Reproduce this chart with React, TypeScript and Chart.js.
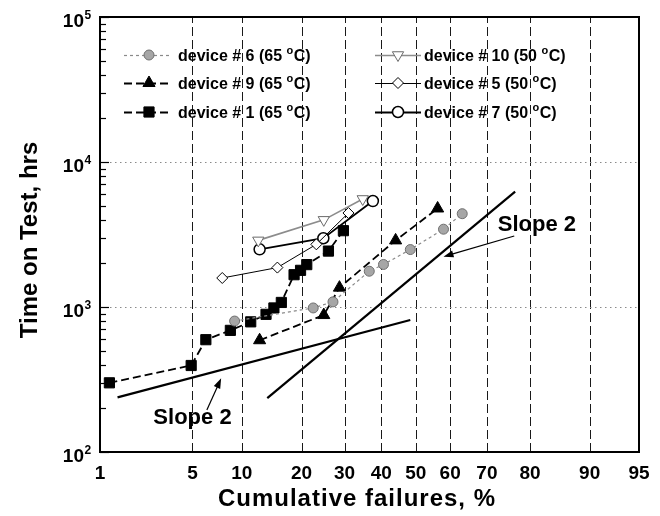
import React, { useEffect, useRef } from 'react';
import { Chart, registerables } from 'chart.js';

Chart.register(...registerables);

// ---------- data ----------
const tickPercents = [1, 5, 10, 20, 30, 40, 50, 60, 70, 80, 90, 95];
const tickLabels = ['1', '5', '10', '20', '30', '40', '50', '60', '70', '80', '90', '95'];
const yDecades = [100, 1000, 10000, 100000];
const yExponents = ['2', '3', '4', '5'];

const dev6Pct = [9.1, 22.5, 27.1, 36.6, 40.6, 48.4, 58.1, 63.4];
const dev6Hrs = [800, 985, 1085, 1765, 1965, 2490, 3440, 4400];

const dev9Pct = [12.5, 24.9, 28.7, 44.1, 56.4];
const dev9Hrs = [590, 880, 1360, 2880, 4780];

const dev1Pct = [1.2, 4.9, 6.1, 8.6, 11.2, 13.5, 14.8, 16.1, 18.5, 19.8, 21.1, 26.0, 29.7];
const dev1Hrs = [300, 395, 595, 690, 790, 890, 985, 1075, 1670, 1790, 1960, 2430, 3360];

const dev10Pct = [12.3, 24.9, 34.8];
const dev10Hrs = [2880, 3990, 5560];

const dev5Pct = [7.7, 15.4, 23.2, 31.0];
const dev5Hrs = [1585, 1870, 2705, 4450];

const dev7Pct = [12.5, 24.8, 37.6];
const dev7Hrs = [2500, 2980, 5380];

const slopeAPct = [1.4, 48.4];
const slopeAHrs = [238, 813];
const slopeBPct = [13.7, 76.8];
const slopeBHrs = [235, 6240];

const legendLabels = [
  'device # 6 (65 °C)',
  'device # 9 (65 °C)',
  'device # 1 (65 °C)',
  'device # 10 (50 °C)',
  'device # 5 (50 °C)',
  'device # 7 (50 °C)',
];

const slopeText = 'Slope 2';
// annotation anchors in data space (percent, hours)
const annotations = [
  { textPct: 5.0, textHrs: 156, fromPct: 6.19, fromHrs: 195, toPct: 7.58, toHrs: 322 },
  { textPct: 81.4, textHrs: 3317, fromPct: 76.6, fromHrs: 3088, toPct: 58.1, toHrs: 2223 },
];

const xTitle = 'Cumulative failures, %';
const yTitle = 'Time on Test, hrs';

// ---------- helpers ----------
const FONT = '"Liberation Sans", Arial, Helvetica, sans-serif';

function probit(p: number): number {
  const a = [-3.969683028665376e1, 2.209460984245205e2, -2.759285104469687e2, 1.38357751867269e2, -3.066479806614716e1, 2.506628277459239];
  const b = [-5.447609879822406e1, 1.615858368580409e2, -1.556989798598866e2, 6.680131188771972e1, -1.328068155288572e1];
  const c = [-7.784894002430293e-3, -3.223964580411365e-1, -2.400758277161838, -2.549732539343734, 4.374664141464968, 2.938163982698783];
  const d = [7.784695709041462e-3, 3.224671290700398e-1, 2.445134137142996, 3.754408661907416];
  const pl = 0.02425;
  const ph = 1 - pl;
  let q: number, r: number;
  if (p < pl) {
    q = Math.sqrt(-2 * Math.log(p));
    return (((((c[0] * q + c[1]) * q + c[2]) * q + c[3]) * q + c[4]) * q + c[5]) / ((((d[0] * q + d[1]) * q + d[2]) * q + d[3]) * q + 1);
  }
  if (p <= ph) {
    q = p - 0.5;
    r = q * q;
    return ((((((a[0] * r + a[1]) * r + a[2]) * r + a[3]) * r + a[4]) * r + a[5]) * q) / (((((b[0] * r + b[1]) * r + b[2]) * r + b[3]) * r + b[4]) * r + 1);
  }
  q = Math.sqrt(-2 * Math.log(1 - p));
  return -(((((c[0] * q + c[1]) * q + c[2]) * q + c[3]) * q + c[4]) * q + c[5]) / ((((d[0] * q + d[1]) * q + d[2]) * q + d[3]) * q + 1);
}

type SeriesStyle = {
  color: string;
  width: number;
  dash: number[];
  pointStyle: string;
  radius: number;
  fill: string;
  border: string;
  borderWidth: number;
  rotation: number;
};

const styles: SeriesStyle[] = [
  { color: '#8a8a8a', width: 1.2, dash: [3, 3], pointStyle: 'circle', radius: 5, fill: '#a6a6a6', border: '#6f6f6f', borderWidth: 1, rotation: 0 },
  { color: '#000', width: 1.8, dash: [8, 4], pointStyle: 'triangle', radius: 7, fill: '#000', border: '#000', borderWidth: 1, rotation: 0 },
  { color: '#000', width: 1.8, dash: [8, 4], pointStyle: 'rect', radius: 7.2, fill: '#000', border: '#000', borderWidth: 1, rotation: 0 },
  { color: '#8c8c8c', width: 1.6, dash: [], pointStyle: 'triangle', radius: 6.5, fill: '#fff', border: '#6a6a6a', borderWidth: 1, rotation: 180 },
  { color: '#000', width: 1, dash: [], pointStyle: 'rectRot', radius: 5.5, fill: '#fff', border: '#000', borderWidth: 1, rotation: 0 },
  { color: '#000', width: 1.8, dash: [], pointStyle: 'circle', radius: 5.5, fill: '#fff', border: '#000', borderWidth: 1.5, rotation: 0 },
];

const seriesPct = [dev6Pct, dev9Pct, dev1Pct, dev10Pct, dev5Pct, dev7Pct];
const seriesHrs = [dev6Hrs, dev9Hrs, dev1Hrs, dev10Hrs, dev5Hrs, dev7Hrs];

function toPoints(pct: number[], hrs: number[]) {
  return pct.map((p, i) => ({ x: probit(p / 100), y: hrs[i] }));
}

function drawMarker(ctx: CanvasRenderingContext2D, s: SeriesStyle, x: number, y: number) {
  const r = s.radius;
  ctx.save();
  ctx.setLineDash([]);
  ctx.beginPath();
  if (s.pointStyle === 'circle') {
    ctx.arc(x, y, r, 0, Math.PI * 2);
  } else if (s.pointStyle === 'rect') {
    const h = r * Math.SQRT1_2;
    ctx.rect(x - h, y - h, 2 * h, 2 * h);
  } else if (s.pointStyle === 'rectRot') {
    ctx.moveTo(x, y - r);
    ctx.lineTo(x + r, y);
    ctx.lineTo(x, y + r);
    ctx.lineTo(x - r, y);
    ctx.closePath();
  } else if (s.pointStyle === 'triangle') {
    const sg = s.rotation === 180 ? -1 : 1;
    ctx.moveTo(x, y - sg * r);
    ctx.lineTo(x + r * 0.866, y + (sg * r) / 2);
    ctx.lineTo(x - r * 0.866, y + (sg * r) / 2);
    ctx.closePath();
  }
  ctx.fillStyle = s.fill;
  ctx.fill();
  if (s.borderWidth > 0) {
    ctx.lineWidth = s.borderWidth;
    ctx.strokeStyle = s.border;
    ctx.stroke();
  }
  ctx.restore();
}

function drawArrow(ctx: CanvasRenderingContext2D, x1: number, y1: number, x2: number, y2: number) {
  const ang = Math.atan2(y2 - y1, x2 - x1);
  const len = 10;
  const hw = 3.5;
  ctx.save();
  ctx.setLineDash([]);
  ctx.strokeStyle = '#000';
  ctx.fillStyle = '#000';
  ctx.lineWidth = 1.2;
  ctx.beginPath();
  ctx.moveTo(x1, y1);
  ctx.lineTo(x2 - Math.cos(ang) * len * 0.8, y2 - Math.sin(ang) * len * 0.8);
  ctx.stroke();
  ctx.beginPath();
  ctx.moveTo(x2, y2);
  ctx.lineTo(x2 - Math.cos(ang) * len - Math.sin(ang) * hw, y2 - Math.sin(ang) * len + Math.cos(ang) * hw);
  ctx.lineTo(x2 - Math.cos(ang) * len + Math.sin(ang) * hw, y2 - Math.sin(ang) * len - Math.cos(ang) * hw);
  ctx.closePath();
  ctx.fill();
  ctx.restore();
}

const gridPlugin = {
  id: 'probGrid',
  beforeDatasetsDraw(chart: any) {
    const { ctx, chartArea: ca, scales } = chart;
    const xs = scales.x;
    const ys = scales.y;
    ctx.save();
    // vertical dashed lines
    ctx.strokeStyle = '#1a1a1a';
    ctx.lineWidth = 1;
    ctx.setLineDash([9, 4]);
    tickPercents.forEach((p, i) => {
      if (i === 0 || i === tickPercents.length - 1) return;
      const px = Math.round(xs.getPixelForValue(probit(p / 100))) + 0.5;
      ctx.beginPath();
      ctx.moveTo(px, ca.bottom);
      ctx.lineTo(px, ca.top);
      ctx.stroke();
    });
    // horizontal dotted lines
    ctx.strokeStyle = '#8a8a8a';
    ctx.setLineDash([1.5, 3.5]);
    yDecades.forEach((v, i) => {
      if (i === 0 || i === yDecades.length - 1) return;
      const py = Math.round(ys.getPixelForValue(v)) + 0.5;
      ctx.beginPath();
      ctx.moveTo(ca.left, py);
      ctx.lineTo(ca.right, py);
      ctx.stroke();
    });
    ctx.restore();
  },
  afterDatasetsDraw(chart: any) {
    const { ctx, chartArea: ca, scales } = chart;
    const xs = scales.x;
    const ys = scales.y;
    ctx.save();
    ctx.setLineDash([]);
    // frame
    ctx.strokeStyle = '#000';
    ctx.lineWidth = 2;
    ctx.strokeRect(ca.left, ca.top, ca.right - ca.left, ca.bottom - ca.top);

    // minor/major ticks on y axis (inside)
    ctx.lineWidth = 1.2;
    for (let e = 2; e <= 5; e++) {
      for (let m = 1; m <= 9; m++) {
        const v = m * Math.pow(10, e);
        if (v > 100000) break;
        const py = Math.round(ys.getPixelForValue(v)) + 0.5;
        const len = m === 1 ? 9 : 6;
        ctx.beginPath();
        ctx.moveTo(ca.left, py);
        ctx.lineTo(ca.left + len, py);
        ctx.stroke();
      }
    }

    // y tick labels 10^n
    ctx.fillStyle = '#000';
    yDecades.forEach((v, i) => {
      const py = ys.getPixelForValue(v);
      ctx.font = `bold 19px ${FONT}`;
      ctx.textAlign = 'right';
      ctx.textBaseline = 'alphabetic';
      ctx.fillText('10', 84, py + 10);
      ctx.font = `bold 12px ${FONT}`;
      ctx.textAlign = 'left';
      ctx.fillText(yExponents[i], 84.5, py + 1.5);
    });

    // axis titles
    ctx.font = `bold 24px ${FONT}`;
    ctx.textAlign = 'center';
    ctx.textBaseline = 'alphabetic';
    (ctx as any).letterSpacing = '1px';
    ctx.fillText(xTitle, 357, 506);
    (ctx as any).letterSpacing = '0px';
    ctx.save();
    ctx.translate(37, 240);
    ctx.rotate(-Math.PI / 2);
    ctx.fillText(yTitle, 0, 0);
    ctx.restore();

    // legend
    const cols = [
      { lineStart: 124, lineEnd: 170, marker: 149, text: 178 },
      { lineStart: 375, lineEnd: 421, marker: 398, text: 424 },
    ];
    const rows = [55, 83, 112];
    legendLabels.forEach((label, i) => {
      const col = cols[Math.floor(i / 3)];
      const cy = rows[i % 3];
      const s = styles[i];
      ctx.save();
      ctx.strokeStyle = s.color;
      ctx.lineWidth = s.width;
      ctx.setLineDash(s.dash);
      ctx.beginPath();
      ctx.moveTo(col.lineStart, cy + 0.5);
      ctx.lineTo(col.lineEnd, cy + 0.5);
      ctx.stroke();
      ctx.restore();
      drawMarker(ctx, s, col.marker, cy);
      const parts = label.split('°');
      ctx.fillStyle = '#000';
      ctx.textAlign = 'left';
      ctx.textBaseline = 'alphabetic';
      ctx.font = `bold 16px ${FONT}`;
      let x = col.text;
      ctx.fillText(parts[0], x, cy + 6);
      x += ctx.measureText(parts[0]).width;
      ctx.font = `bold 11px ${FONT}`;
      ctx.fillText('o', x, cy - 1);
      x += ctx.measureText('o').width + 0.5;
      ctx.font = `bold 16px ${FONT}`;
      ctx.fillText(parts[1], x, cy + 6);
    });

    // annotations
    annotations.forEach((a) => {
      const tx = xs.getPixelForValue(probit(a.textPct / 100));
      const ty = ys.getPixelForValue(a.textHrs);
      ctx.font = `bold 22px ${FONT}`;
      ctx.textAlign = 'center';
      ctx.textBaseline = 'alphabetic';
      ctx.fillStyle = '#000';
      ctx.fillText(slopeText, tx, ty);
      drawArrow(
        ctx,
        xs.getPixelForValue(probit(a.fromPct / 100)),
        ys.getPixelForValue(a.fromHrs),
        xs.getPixelForValue(probit(a.toPct / 100)),
        ys.getPixelForValue(a.toHrs)
      );
    });
    ctx.restore();
  },
};

export default function App() {
  const canvasRef = useRef<HTMLCanvasElement | null>(null);

  useEffect(() => {
    document.body.style.margin = '0';
    const canvas = canvasRef.current;
    if (!canvas) return;

    const datasets: any[] = seriesPct.map((pct, i) => {
      const s = styles[i];
      return {
        label: legendLabels[i],
        data: toPoints(pct, seriesHrs[i]),
        borderColor: s.color,
        borderWidth: s.width,
        borderDash: s.dash,
        backgroundColor: s.fill,
        pointStyle: s.pointStyle,
        pointRadius: s.radius,
        pointRotation: s.rotation,
        pointBackgroundColor: s.fill,
        pointBorderColor: s.border,
        pointBorderWidth: s.borderWidth,
        fill: false,
        tension: 0,
      };
    });
    datasets.push(
      {
        label: 'slope A',
        data: toPoints(slopeAPct, slopeAHrs),
        borderColor: '#000',
        borderWidth: 2.2,
        pointRadius: 0,
        fill: false,
      },
      {
        label: 'slope B',
        data: toPoints(slopeBPct, slopeBHrs),
        borderColor: '#000',
        borderWidth: 2.2,
        pointRadius: 0,
        fill: false,
      }
    );

    const chart = new Chart(canvas, {
      type: 'line',
      data: { datasets },
      options: {
        responsive: false,
        animation: false,
        devicePixelRatio: 1,
        layout: { padding: { top: 17, right: 21, left: 0, bottom: 0 } },
        plugins: { legend: { display: false }, tooltip: { enabled: false } },
        scales: {
          x: {
            type: 'linear',
            min: probit(tickPercents[0] / 100),
            max: probit(tickPercents[tickPercents.length - 1] / 100),
            grid: { display: false },
            border: { display: false },
            afterBuildTicks: (s: any) => {
              s.ticks = tickPercents.map((p) => ({ value: probit(p / 100) }));
            },
            afterFit: (s: any) => {
              s.height = 64;
            },
            ticks: {
              autoSkip: false,
              maxRotation: 0,
              minRotation: 0,
              padding: 2,
              color: '#000',
              font: { family: FONT, size: 19, weight: 'bold' },
              callback: (_v: any, i: number) => tickLabels[i],
            },
          },
          y: {
            type: 'logarithmic',
            min: 100,
            max: 100000,
            grid: { display: false },
            border: { display: false },
            afterBuildTicks: (s: any) => {
              s.ticks = yDecades.map((v) => ({ value: v }));
            },
            afterFit: (s: any) => {
              s.width = 100;
            },
            ticks: { display: false },
          },
        },
      } as any,
      plugins: [gridPlugin],
    });

    return () => chart.destroy();
  }, []);

  return (
    <div style={{ width: 660, height: 516 }}>
      <canvas ref={canvasRef} width={660} height={516} style={{ display: 'block' }} />
    </div>
  );
}
